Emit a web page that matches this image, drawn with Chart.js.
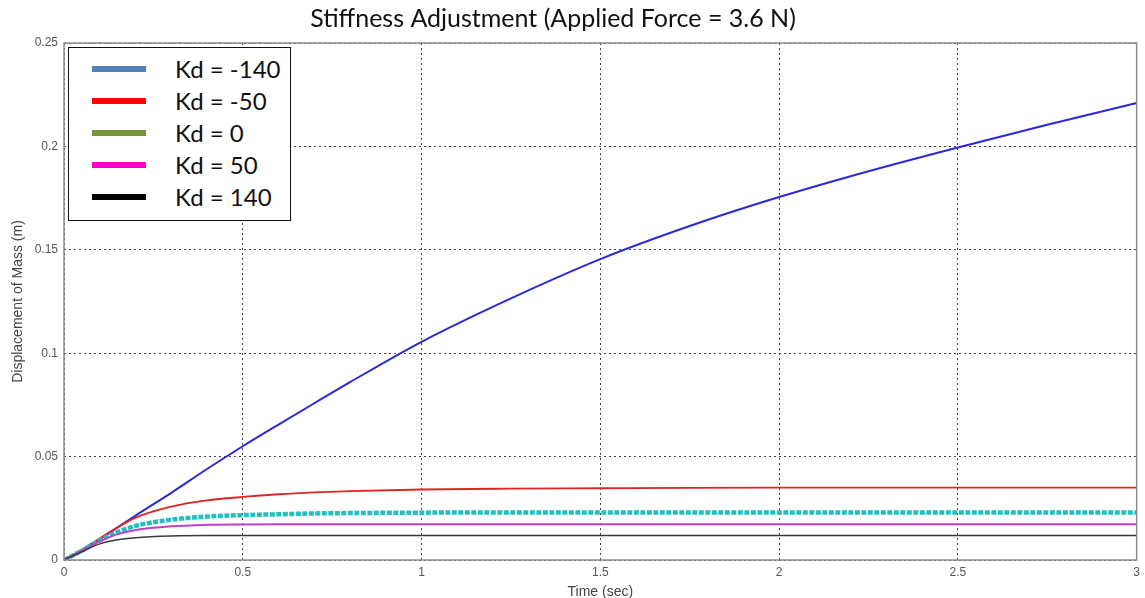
<!DOCTYPE html>
<html>
<head>
<meta charset="utf-8">
<script src="https://cdn.jsdelivr.net/npm/chart.js@4/dist/chart.umd.min.js"></script>
<style>
  body { margin: 0; background: #fff; }
  #wrap { position: relative; width: 1145px; height: 598px; overflow: hidden; }
  #legendBox {
    position: absolute; left: 68px; top: 47px; width: 221px; height: 172px;
    border: 1.5px solid #111; background: #fff;
    font-family: Lato, "Open Sans", sans-serif; font-size: 24px; color: #111;
  }
  .row { position: absolute; left: 0; height: 32px; line-height: 32px; }
  .swatch { position: absolute; left: 23px; top: 13px; width: 54px; height: 6px; }
  .lbl { position: absolute; left: 106px; white-space: nowrap; }
</style>
</head>
<body>
<div id="wrap">
  <canvas id="myChart" width="1145" height="598"></canvas>
  <div id="legendBox"></div>
</div>
<script>
// time axis (sec)
const timeVals = [0, 0.05, 0.1, 0.15, 0.2, 0.3, 0.4, 0.5, 0.6, 0.7, 0.8, 1, 1.25, 1.5, 1.75, 2, 2.25, 2.5, 2.75, 3];

// displacement (m) for each Kd
const kdMinus140 = [0, 0.0045, 0.010, 0.0158, 0.0215, 0.0325, 0.044, 0.055, 0.0655, 0.0758, 0.086, 0.1055, 0.1265, 0.1455, 0.1615, 0.1755, 0.188, 0.1995, 0.2105, 0.221];
const kdMinus50 = [0, 0.005, 0.0105, 0.0158, 0.0205, 0.0258, 0.0288, 0.0305, 0.0318, 0.0327, 0.0333, 0.0341, 0.0345, 0.0347, 0.0349, 0.035, 0.035, 0.035, 0.035, 0.035];
const kdZero = [0, 0.0045, 0.0095, 0.0135, 0.0165, 0.0195, 0.021, 0.0217, 0.0221, 0.0225, 0.0227, 0.0229, 0.023, 0.023, 0.023, 0.023, 0.023, 0.023, 0.023, 0.023];
const kdPlus50 = [0, 0.0045, 0.009, 0.0125, 0.0145, 0.0163, 0.017, 0.0172, 0.0173, 0.0173, 0.0173, 0.0173, 0.0173, 0.0173, 0.0173, 0.0173, 0.0173, 0.0173, 0.0173, 0.0173];
const kdPlus140 = [0, 0.004, 0.0078, 0.0098, 0.0108, 0.0116, 0.0118, 0.0118, 0.0118, 0.0118, 0.0118, 0.0118, 0.0118, 0.0118, 0.0118, 0.0118, 0.0118, 0.0118, 0.0118, 0.0118];

const chartTitle = "Stiffness Adjustment (Applied Force = 3.6 N)";
const legendLabels = ["Kd = -140", "Kd = -50", "Kd = 0", "Kd = 50", "Kd = 140"];
const legendColors = ["#4f81bd", "#ff0000", "#77933c", "#ff00cc", "#000000"];

const xTicks = [0, 0.5, 1, 1.5, 2, 2.5, 3];
const xTickLabels = ["0", "0.5", "1", "1.5", "2", "2.5", "3"];
const yTicks = [0, 0.05, 0.1, 0.15, 0.2, 0.25];
const yTickLabels = ["0", "0.05", "0.1", "0.15", "0.2", "0.25"];

function toPoints(vals) {
  return vals.map((v, i) => ({ x: timeVals[i], y: v }));
}

// legend drawn as html box inside plot area
const legendBox = document.getElementById("legendBox");
legendLabels.forEach((name, i) => {
  const row = document.createElement("div");
  row.className = "row";
  row.style.top = (5 + i * 32) + "px";
  const sw = document.createElement("div");
  sw.className = "swatch";
  sw.style.background = legendColors[i];
  const lb = document.createElement("div");
  lb.className = "lbl";
  lb.innerText = name;
  row.appendChild(sw);
  row.appendChild(lb);
  legendBox.appendChild(row);
});

// box around chart area + title (title sits a bit left of canvas centre)
const frameBox = {
  id: "frameBox",
  afterDraw(chart) {
    const { ctx, chartArea } = chart;
    ctx.save();
    ctx.strokeStyle = "#8a8a8a";
    ctx.lineWidth = 1.5;
    ctx.strokeRect(chartArea.left, chartArea.top, chartArea.right - chartArea.left, chartArea.bottom - chartArea.top);
    ctx.fillStyle = "#111";
    ctx.font = "25px Lato, 'Open Sans', sans-serif";
    ctx.textAlign = "center";
    ctx.textBaseline = "middle";
    ctx.fillText(chartTitle, 553, 19);
    ctx.restore();
  },
};

const mk = (label, vals, color, width, dash) => ({
  label: label,
  data: toPoints(vals),
  borderColor: color,
  backgroundColor: color,
  borderWidth: width,
  borderDash: dash || [],
  pointRadius: 0,
  cubicInterpolationMode: "monotone",
  fill: false,
});

const data = {
  datasets: [
    mk(legendLabels[4], kdPlus140, "#3a3a3a", 1.5),
    mk(legendLabels[3], kdPlus50, "#c040c8", 2),
    mk(legendLabels[2], kdZero, "#22c0c0", 4.5, [5, 1.5]),
    mk(legendLabels[1], kdMinus50, "#e02424", 1.8),
    mk(legendLabels[0], kdMinus140, "#2a2ad8", 2),
  ],
};

const tickFont = { family: "'Liberation Sans', Arial, sans-serif", size: 12 };

const config = {
  type: "line",
  data: data,
  plugins: [frameBox],
  options: {
    responsive: false,
    animation: false,
    layout: { padding: { left: 0, right: 6, top: 43, bottom: 0 } },
    plugins: {
      legend: { display: false },
      tooltip: { enabled: false },
      title: { display: false },
    },
    scales: {
      x: {
        type: "linear",
        min: 0,
        max: 3,
        afterBuildTicks: (scale) => {
          scale.ticks = xTicks.map((v) => ({ value: v }));
        },
        afterFit: (scale) => {
          scale.height = 38;
        },
        ticks: {
          color: "#555",
          font: tickFont,
          padding: 5,
          maxRotation: 0,
          callback: (v) => xTickLabels[xTicks.indexOf(v)],
        },
        grid: {
          color: "#444",
          lineWidth: 1,
          drawTicks: false,
        },
        border: { display: false, dash: [2, 3] },
        title: {
          display: true,
          text: "Time (sec)",
          color: "#444",
          font: { family: "'Liberation Sans', Arial, sans-serif", size: 14 },
          padding: { top: 0, bottom: -3 },
        },
      },
      y: {
        type: "linear",
        min: 0,
        max: 0.25,
        afterBuildTicks: (scale) => {
          scale.ticks = yTicks.map((v) => ({ value: v }));
        },
        afterFit: (scale) => {
          scale.width = 64;
        },
        ticks: {
          color: "#555",
          font: tickFont,
          padding: 6,
          callback: (v) => yTickLabels[yTicks.indexOf(v)],
        },
        grid: {
          color: "#444",
          lineWidth: 1,
          drawTicks: false,
        },
        border: { display: false, dash: [2, 3] },
        title: {
          display: true,
          text: "Displacement of Mass (m)",
          color: "#444",
          font: { family: "'Liberation Sans', Arial, sans-serif", size: 14 },
          padding: { top: 10, bottom: 0 },
        },
      },
    },
  },
};

const myChart = new Chart(document.getElementById("myChart"), config);
</script>
</body>
</html>
